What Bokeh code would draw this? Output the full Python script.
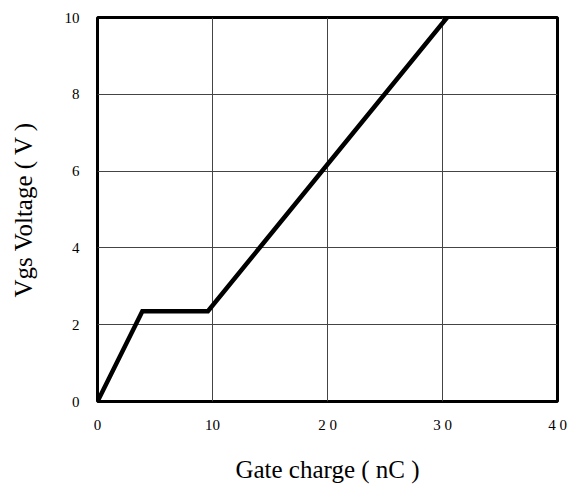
from bokeh.plotting import figure
from bokeh.embed import file_html
from bokeh.resources import INLINE
from bokeh.models import FixedTicker, Range1d

gate_charge = [0, 3.9, 9.6, 30.4]
vgs = [0, 2.35, 2.35, 10]
x_ticks = [0, 10, 20, 30, 40]
y_ticks = [0, 2, 4, 6, 8, 10]
x_tick_labels = {0: "0", 10: "10", 20: "2 0", 30: "3 0", 40: "4 0"}

p = figure(width=574, height=492, output_backend="svg", toolbar_location=None,
           x_range=Range1d(0, 40), y_range=Range1d(0, 10),
           min_border_left=97, min_border_right=17, min_border_top=17, min_border_bottom=91)
p.background_fill_color = "white"
p.border_fill_color = "white"
p.outline_line_color = "black"
p.outline_line_width = 3

p.line(gate_charge, vgs, line_color="black", line_width=4.5, line_join="miter")

font = "Liberation Serif"
for ax in (p.xaxis, p.yaxis):
    ax.axis_line_color = None
    ax.major_tick_line_color = None
    ax.minor_tick_line_color = None
    ax.major_label_text_font = font
    ax.major_label_text_font_size = "15px"
    ax.major_label_text_color = "black"
    ax.axis_label_text_font = font
    ax.axis_label_text_font_size = "25px"
    ax.axis_label_text_font_style = "normal"
    ax.axis_label_text_color = "black"

p.xaxis.ticker = FixedTicker(ticks=x_ticks)
p.yaxis.ticker = FixedTicker(ticks=y_ticks)
p.xaxis.major_label_overrides = x_tick_labels
p.xaxis.major_label_standoff = 9
p.yaxis.major_label_standoff = 12
p.xaxis.axis_label = "Gate charge ( nC )"
p.yaxis.axis_label = "Vgs Voltage ( V )"
p.xaxis.axis_label_standoff = 20
p.yaxis.axis_label_standoff = 25

p.xgrid.ticker = FixedTicker(ticks=x_ticks)
p.ygrid.ticker = FixedTicker(ticks=y_ticks)
p.grid.grid_line_color = "#444444"
p.grid.grid_line_width = 1
p.grid.grid_line_alpha = 1

open("out.html", "w").write(file_html(p, INLINE))
